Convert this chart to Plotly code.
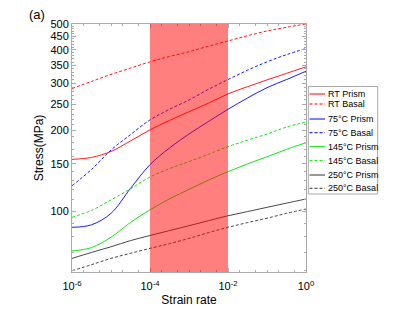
import plotly.graph_objects as go

strain_rate = [1e-6, 3.16e-6, 1e-5, 3.16e-5, 1e-4, 3.16e-4, 1e-3,
               3.16e-3, 1e-2, 3.16e-2, 1e-1, 3.16e-1, 1e0]

rt_prism = [156, 158.5, 167, 182.7, 201, 218, 235, 253, 274, 291.5, 309, 327, 346]
rt_basal = [287, 305, 324, 342, 361, 378, 394, 413, 432, 452, 471, 486, 500]
c75_prism = [86.9, 88.8, 98, 121.5, 149, 172, 194, 216, 240, 264.5, 289, 310, 333]
c75_basal = [124.3, 143, 169, 193, 219, 240, 260, 285, 310, 336, 361, 384, 405]
c145_prism = [70.9, 73, 79.8, 90.6, 101, 111, 120.5, 130.5, 140.3, 150, 159.5, 170, 180]
c145_basal = [94.7, 100.5, 110, 121, 134, 144, 153, 163, 174, 184, 194, 206, 215]
c250_prism = [66.5, 70, 73.5, 77.5, 81, 84.5, 88.1, 92, 96, 99.5, 103.2, 107, 110.9]
c250_basal = [59.8, 63, 66.5, 69.5, 72.5, 75.5, 79, 83, 86.9, 90.5, 94, 98, 101.7]

names = ["RT Prism", "RT Basal", "75°C Prism", "75°C Basal",
         "145°C Prism", "145°C Basal", "250°C Prism", "250°C Basal"]
values = [rt_prism, rt_basal, c75_prism, c75_basal,
          c145_prism, c145_basal, c250_prism, c250_basal]
colors = ["#ff0000", "#ff0000", "#0000ff", "#0000ff",
          "#00e000", "#00e000", "#333333", "#333333"]
dashes = ["solid", "3px,2px"] * 4

band = [1e-4, 1e-2]

y_ticks = [100, 150, 200, 250, 300, 350, 400, 450, 500]
x_ticks = [1e-6, 1e-4, 1e-2, 1e0]
x_ticktext = ["10<sup>-6</sup>", "10<sup>-4</sup>", "10<sup>-2</sup>", "10<sup>0</sup>"]

# the page body adds an 8px margin; work in page pixels and shift
OFF = 8
PAGE_W, PAGE_H = 415, 312
W, H = PAGE_W - OFF, PAGE_H - OFF
L, R, T, B = 72 - OFF, 306 - OFF, 24 - OFF, 272 - OFF


def px(x):
    return (x - OFF - L) / (R - L)


def py(y):
    return (B - (y - OFF)) / (B - T)


fig = go.Figure()
for name, vals, color, dash in zip(names, values, colors, dashes):
    fig.add_trace(go.Scatter(
        x=strain_rate, y=vals, name=name, mode="lines", showlegend=False,
        line=dict(color=color, width=0.9, dash=dash, shape="spline", smoothing=1.0),
    ))

shapes = [dict(type="rect", xref="x", yref="paper", x0=band[0], x1=band[1], y0=0, y1=1,
               fillcolor="rgba(255,0,0,0.5)", line=dict(width=0), layer="above")]

# legend box
shapes.append(dict(type="rect", xref="paper", yref="paper",
                   x0=px(308.3), x1=px(377.7), y0=py(194), y1=py(86.5),
                   line=dict(color="#aaaaaa", width=1), fillcolor="white", layer="above"))
legend_y = [94, 104, 119, 132.7, 146.7, 160.7, 175, 188.3]
annotations = []
for name, color, dash, ly in zip(names, colors, dashes, legend_y):
    shapes.append(dict(type="line", xref="paper", yref="paper",
                       x0=px(309.5), x1=px(325), y0=py(ly), y1=py(ly),
                       line=dict(color=color, width=1, dash=dash), layer="above"))
    annotations.append(dict(text=name, xref="paper", yref="paper",
                            x=px(325.7), y=py(ly), xanchor="left", yanchor="middle",
                            showarrow=False, font=dict(size=9)))

annotations.append(dict(text="(a)", xref="paper", yref="paper", x=px(37), y=py(14),
                        xanchor="center", yanchor="middle", showarrow=False,
                        font=dict(size=13)))

fig.update_layout(
    width=W, height=H,
    margin=dict(l=L, r=W - R, t=T, b=H - B, autoexpand=False),
    paper_bgcolor="white", plot_bgcolor="white",
    font=dict(family="Liberation Sans, Arial, sans-serif", size=11, color="black"),
    showlegend=False,
    shapes=shapes,
    annotations=annotations,
)
fig.update_xaxes(
    type="log", range=[-6, 0], tickvals=x_ticks, ticktext=x_ticktext,
    title=dict(text="Strain rate", font=dict(size=12), standoff=4),
    ticklabelstandoff=4,
    showline=True, linecolor="#aaaaaa", linewidth=1, mirror="ticks",
    ticks="inside", ticklen=4, tickcolor="#aaaaaa",
    minor=dict(ticks="inside", ticklen=2, tickcolor="#aaaaaa", showgrid=False),
    showgrid=False, zeroline=False,
)
fig.update_yaxes(
    type="log", range=[1.772, 2.699], tickvals=y_ticks,
    ticktext=[str(v) for v in y_ticks],
    title=dict(text="Stress(MPa)", font=dict(size=12), standoff=4),
    showline=True, linecolor="#aaaaaa", linewidth=1, mirror="ticks",
    ticks="inside", ticklen=4, tickcolor="#aaaaaa",
    minor=dict(ticks="inside", ticklen=2, tickcolor="#aaaaaa", showgrid=False),
    showgrid=False, zeroline=False,
)

fig.write_html("out.html")
